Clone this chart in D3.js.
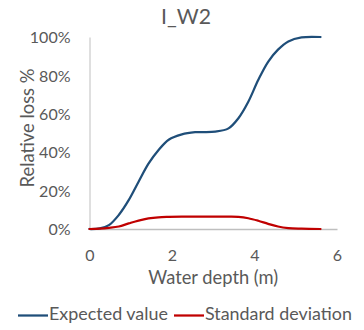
<!DOCTYPE html>
<html><head><meta charset="utf-8">
<script src="https://cdn.jsdelivr.net/npm/d3@7"></script>
<style>body{margin:0;background:#fff;} text{font-family:Lato,"Open Sans",sans-serif;fill:#595959;}</style>
</head><body><svg id="c" width="364" height="330"></svg>
<script>
const depth = [0, 0.25, 0.47, 0.71, 0.95, 1.19, 1.43, 1.67, 1.92, 2.24, 2.56, 3.05, 3.37, 3.61, 3.85, 4.09, 4.33, 4.57, 4.82, 5.14, 5.6];
const expectedValue = [0, 0.003, 0.02, 0.073, 0.15, 0.246, 0.34, 0.41, 0.465, 0.493, 0.504, 0.507, 0.524, 0.577, 0.663, 0.776, 0.871, 0.934, 0.977, 0.998, 1.0];
const stdDeviation = [0, 0.002, 0.006, 0.013, 0.029, 0.044, 0.055, 0.061, 0.063, 0.064, 0.064, 0.064, 0.064, 0.063, 0.056, 0.043, 0.027, 0.013, 0.005, 0.002, 0];
const xTicks = [0, 2, 4, 6];
const yTicks = [0, 0.2, 0.4, 0.6, 0.8, 1.0];
const title = "I_W2";
const xTitle = "Water depth (m)";
const yTitle = "Relative loss %";
const seriesNames = ["Expected value", "Standard deviation"];
const colors = ["#1F4E79", "#C00000"];

const svg = d3.select("#c");
const x = d3.scaleLinear().domain([0, 6]).range([89.5, 337]);
const y = d3.scaleLinear().domain([0, 1]).range([229, 37]);

function fit(sel, target) {
  const w = sel.node().getComputedTextLength();
  const fs = parseFloat(sel.style("font-size"));
  sel.style("font-size", (fs * target / w) + "px");
}

const t = svg.append("text").attr("x", 186).attr("y", 24).attr("text-anchor", "middle")
  .style("font-size", "17px").text(title);
fit(t, 50);

// axes
const yAxis = svg.append("g").attr("transform", `translate(${x(0)},0)`)
  .call(d3.axisLeft(y).tickValues(yTicks).tickFormat(d3.format(".0%")).tickSize(0).tickPadding(19));
yAxis.select(".domain").attr("stroke", "#bfbfbf").attr("stroke-width", 1);
yAxis.selectAll("text").style("font-size", "16px").attr("fill", "#595959").attr("dy", "0.36em");

const xAxis = svg.append("g").attr("transform", `translate(0,${y(0)})`)
  .call(d3.axisBottom(x).tickValues(xTicks).tickFormat(d3.format("d")).tickSize(0).tickPadding(0));
xAxis.select(".domain").attr("stroke", "#bfbfbf").attr("stroke-width", 1.5);
xAxis.selectAll("text").style("font-size", "16px").attr("fill", "#595959").attr("y", 32).attr("dy", 0);

const xt = svg.append("text").attr("x", (x(0) + x(6)) / 2).attr("y", 284).attr("text-anchor", "middle")
  .style("font-size", "16px").text(xTitle);
fit(xt, 130);
const yt = svg.append("text").attr("transform", `translate(34,128) rotate(-90)`)
  .attr("text-anchor", "middle").style("font-size", "16px").text(yTitle);
fit(yt, 119);

const line = d3.line().x(d => x(d[0])).y(d => y(Math.max(0, d[1]))).curve(d3.curveCatmullRom.alpha(0.5));
[expectedValue, stdDeviation].forEach((vals, i) => {
  svg.append("path").datum(depth.map((d, j) => [d, vals[j]]))
    .attr("d", line).attr("fill", "none").attr("stroke", colors[i])
    .attr("stroke-width", 2.25).attr("stroke-linecap", "round");
});

// legend
const legX = [18, 174];
const legW = [119, 147];
seriesNames.forEach((n, i) => {
  svg.append("line").attr("x1", legX[i]).attr("x2", legX[i] + 30).attr("y1", 315.5).attr("y2", 315.5)
    .attr("stroke", colors[i]).attr("stroke-width", 2.25);
  const lt = svg.append("text").attr("x", legX[i] + 31).attr("y", 320).style("font-size", "16px").text(n);
  fit(lt, legW[i]);
});
</script></body></html>
